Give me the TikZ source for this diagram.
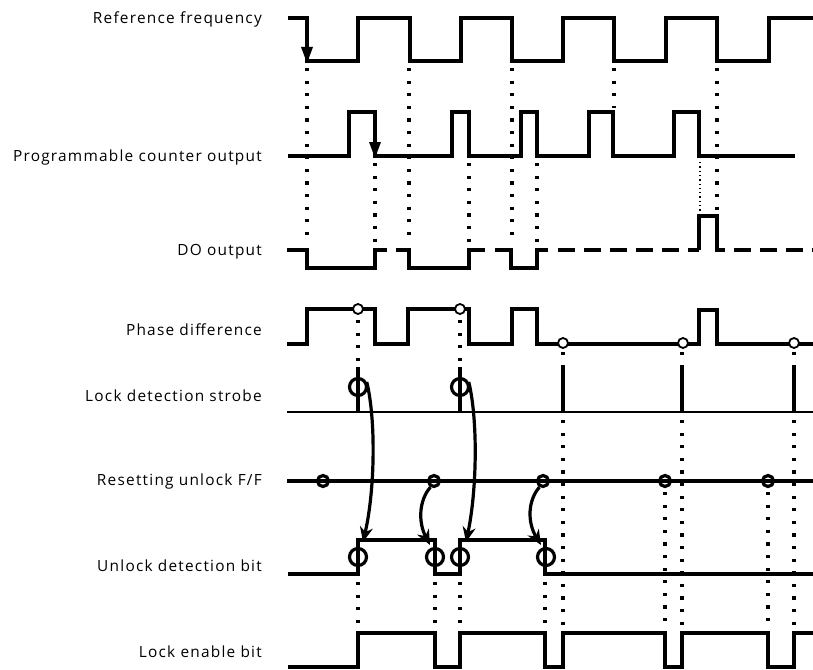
\documentclass[tikz,border=0pt]{standalone}
\usepackage{fontspec}
\setmainfont[LetterSpace=8]{Open Sans}
\usetikzlibrary{arrows.meta}
\tikzset{
  wave/.style={line width=3.6pt, line join=miter},
  thinwave/.style={line width=2.2pt},
  dotline/.style={line width=3.2pt, dash pattern=on 3.2pt off 9.4pt},
  finedots/.style={line width=1.3pt, dash pattern=on 1.3pt off 3pt},
  dashwave/.style={line width=3.6pt, dash pattern=on 17pt off 9pt},
  lbl/.style={anchor=east, inner sep=0pt, font=\fontsize{15.4}{18}\selectfont},
  bigring/.style={circle, draw, line width=3.2pt, inner sep=0pt, minimum size=17pt},
  smallring/.style={circle, draw, line width=3.2pt, inner sep=0pt, minimum size=11pt},
  hole/.style={circle, draw, fill=white, line width=1.8pt, inner sep=0pt, minimum size=10pt},
  curvarrow/.style={line width=3.2pt, -{Stealth[length=15pt,width=13pt]}},
  tip/.style={fill=black}
}
\begin{document}
\begin{tikzpicture}[x=1pt,y=-1pt]
\useasboundingbox (0,0) rectangle (813,669);

% labels
\node[lbl] (lref) at (262,19) {Reference frequency};
\node[lbl] (lpc) at (262,157) {Programmable counter output};
\node[lbl] (ldo) at (262,252) {DO output};
\node[lbl] (lph) at (262,330) {Phase difference};
\node[lbl] (lst) at (262,396) {Lock detection strobe};
\node[lbl] (lrs) at (262,481) {Resetting unlock F/F};
\node[lbl] (lud) at (262,566) {Unlock detection bit};
\node[lbl] (lle) at (262,652) {Lock enable bit};

% Reference frequency
\draw[wave] (288,18) -- (307,18) -- (307,61) -- (358,61) -- (358,18) -- (410,18) -- (410,61)
  -- (461,61) -- (461,18) -- (512,18) -- (512,61) -- (563,61) -- (563,18) -- (614,18)
  -- (614,61) -- (666,61) -- (666,18) -- (717,18) -- (717,61) -- (769,61) -- (769,18) -- (813,18);
\fill[tip] (301,47) -- (313,47) -- (307,63) -- cycle;

% Programmable counter output
\draw[wave] (288,156) -- (349,156) -- (349,112) -- (375,112) -- (375,156) -- (452,156)
  -- (452,112) -- (469,112) -- (469,156) -- (521,156) -- (521,112) -- (537,112) -- (537,156)
  -- (589,156) -- (589,112) -- (613,112) -- (613,156) -- (674,156) -- (674,112) -- (699,112)
  -- (699,156) -- (795,156);
\fill[tip] (369,142) -- (381,142) -- (375,158) -- cycle;

% DO output
\draw[wave] (287,250) -- (307,250) -- (307,268) -- (375,268) -- (375,250) -- (387,250);
\draw[wave] (396,250) -- (409,250) -- (409,268) -- (469,268) -- (469,250) -- (485,250);
\draw[wave] (495,250) -- (511,250) -- (511,268) -- (537,268) -- (537,250) -- (548,250);
\draw[dashwave] (558,250) -- (699,250);
\draw[wave] (699,250) -- (699,216) -- (717,216) -- (717,250) -- (725,250);
\draw[dashwave] (734,250) -- (813,250);

% Phase difference
\draw[wave] (287,344) -- (307,344) -- (307,309) -- (375,309) -- (375,344) -- (408,344)
  -- (408,309) -- (469,309) -- (469,344) -- (512,344) -- (512,309) -- (537,309) -- (537,344)
  -- (699,344) -- (699,310) -- (717,310) -- (717,344) -- (813,344);

% Lock detection strobe
\draw[thinwave] (287,412) -- (813,412);
\foreach \x in {358,460,563,682,794} \draw[wave] (\x,367) -- (\x,412);

% Resetting unlock F/F
\draw[wave] (287,481) -- (813,481);

% Unlock detection bit
\draw[wave] (288,574) -- (358,574) -- (358,540) -- (435,540) -- (435,574) -- (460,574)
  -- (460,540) -- (545,540) -- (545,574) -- (813,574);

% Lock enable bit
\draw[wave] (288,667) -- (358,667) -- (358,633) -- (435,633) -- (435,667) -- (460,667)
  -- (460,633) -- (545,633) -- (545,667) -- (563,667) -- (563,633) -- (665,633) -- (665,667)
  -- (682,667) -- (682,633) -- (768,633) -- (768,667) -- (794,667) -- (794,633) -- (813,633);

% dotted guide lines
\foreach \x in {307,409,512} \draw[dotline] (\x,68) -- (\x,244);
\draw[dotline] (614,68) -- (614,108);
\draw[dotline] (717,68) -- (717,210);
\foreach \x in {375,469,537} \draw[dotline] (\x,163) -- (\x,244);
\draw[finedots] (700,162) -- (700,212);
\foreach \x in {358,460} \draw[dotline] (\x,320) -- (\x,367);
\foreach \x in {563,682,794} \draw[dotline] (\x,352) -- (\x,367);
\foreach \x in {563,682,794} \draw[dotline] (\x,420) -- (\x,628);
\foreach \x in {665,768} \draw[dotline] (\x,492) -- (\x,628);
\foreach \x in {358,435,460,545} \draw[dotline] (\x,582) -- (\x,628);

% markers
\node[hole] (p1) at (358,309) {};
\node[hole] (p2) at (460,309) {};
\node[hole] (p3) at (563,343) {};
\node[hole] (p4) at (683,343) {};
\node[hole] (p5) at (794,343) {};

\node[bigring] (s1) at (358,387) {};
\node[bigring] (s2) at (460,387) {};

\node[smallring] (r1) at (323,481) {};
\node[smallring] (r2) at (434,481) {};
\node[smallring] (r3) at (543,481) {};
\node[smallring] (r4) at (665,481) {};
\node[smallring] (r5) at (768,481) {};

\node[bigring] (u1) at (358,557) {};
\node[bigring] (u2) at (435,557) {};
\node[bigring] (u3) at (460,557) {};
\node[bigring] (u4) at (546,557) {};

\coordinate (u1t) at (363,542);
\coordinate (u2t) at (430,545);
\coordinate (u3t) at (466,542);
\coordinate (u4t) at (541,545);

% curved arrows
\draw[curvarrow] (s1.30) .. controls (376,420) and (375,490) .. (u1t);
\draw[curvarrow] (s2.30) .. controls (478,420) and (477,490) .. (u3t);
\draw[curvarrow] (r2.240) .. controls (419,500) and (418,522) .. (u2t);
\draw[curvarrow] (r3.240) .. controls (528,500) and (527,522) .. (u4t);
\end{tikzpicture}
\end{document}
